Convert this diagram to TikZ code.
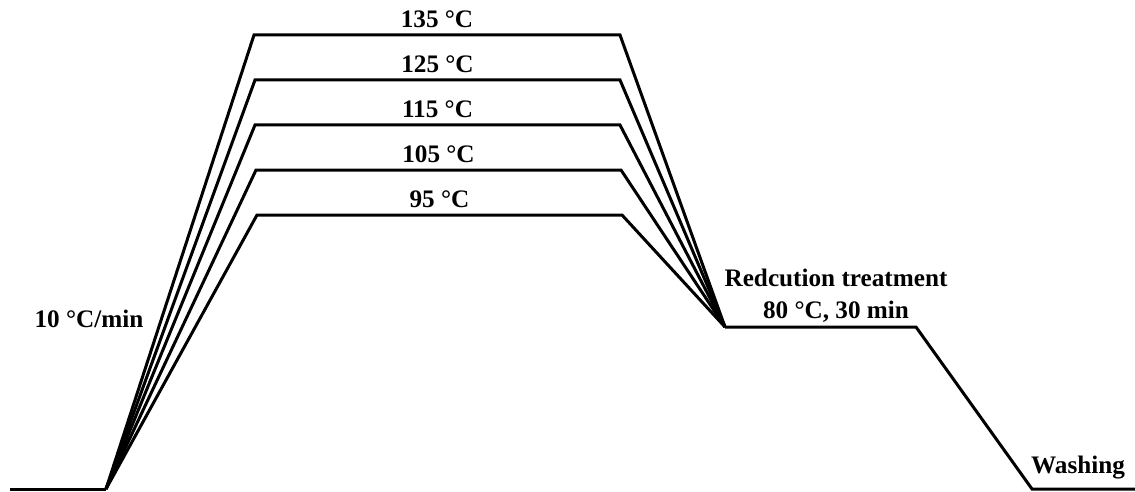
\documentclass[tikz,border=0pt]{standalone}
\usepackage{fontspec}
\setmainfont{Liberation Serif}
\usetikzlibrary{positioning}

\begin{document}
\begin{tikzpicture}[x=0.5pt, y=-0.5pt,
  profile/.style={draw=black, line width=1.5pt, line join=miter},
  templabel/.style={font=\bfseries\fontsize{12.6}{16}\selectfont, inner sep=0pt, align=center}]
\useasboundingbox (0,0) rectangle (1135,492);
% fixed points of the dyeing profile
\coordinate (base) at (10,489);
\coordinate (start) at (106,489);
\coordinate (redl) at (725,327);
\coordinate (redr) at (916,327);
\coordinate (wash) at (1032,489);
\coordinate (tail) at (1135,489);
\draw[profile] (base) -- (start);
\foreach \temp/\yy/\xl/\xr in {135/35/254/620, 125/80/255/620, 115/125/255/620, 105/170/256/621, 95/215/257/622}{
  \coordinate (t\temp l) at (\xl,\yy);
  \coordinate (t\temp r) at (\xr,\yy);
  \draw[profile] (start) -- (t\temp l) -- (t\temp r) -- (redl);
  \path (t\temp l) -- (t\temp r) node[templabel, midway, above=3.5pt] (lbl\temp) {\temp{} °C};
}
\draw[profile] (redl) -- (redr) -- (wash) -- (tail);
\node[templabel] (rate) at (89,319) {10 °C/min};
\node[templabel] (reduction) at (836,296) {Redcution treatment\\80 °C, 30 min};
\node[templabel] (washing) at (1078,468) {Washing};
\end{tikzpicture}
\end{document}
